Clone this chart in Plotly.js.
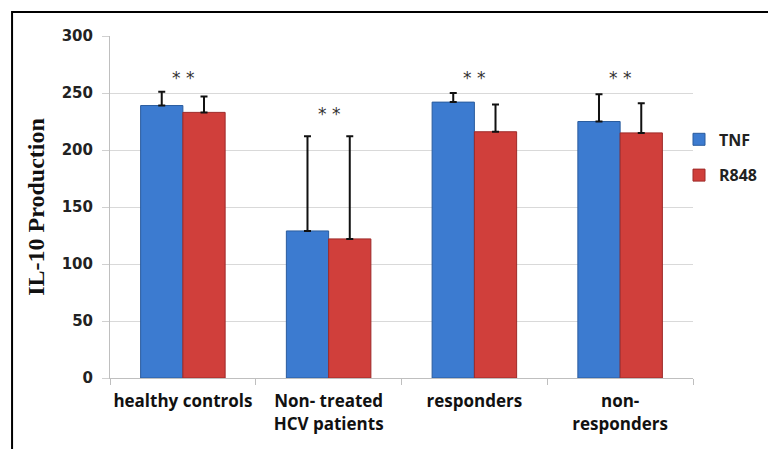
<!DOCTYPE html>
<html><head><meta charset="utf-8">
<script src="https://cdn.plot.ly/plotly-3.0.1.min.js"></script>
<style>html,body{margin:0;padding:0;background:#fff}#chart{width:768px;height:449px}</style>
</head><body><div id="chart"></div>
<script>
const categories = ["healthy controls", "Non- treated<br>HCV patients", "responders", "non-<br>responders"];
const tnfValues = [239, 129, 242, 225];
const tnfErrors = [12, 83, 8, 24];
const r848Values = [233, 122, 216, 215];
const r848Errors = [14, 90, 24, 26];
const starLabels = ["* *", "* *", "* *", "* *"];
const starHeights = [263, 232, 263, 263];
const yTicks = [0, 50, 100, 150, 200, 250, 300];

const traces = [
  {type:'bar', name:'TNF', x:categories, y:tnfValues, legendgroup:'a',
   marker:{color:'#3C7BD0', line:{color:'#2A5C9E', width:1}},
   error_y:{type:'data', symmetric:false, array:tnfErrors, arrayminus:tnfValues.map(()=>0), color:'#111', thickness:2, width:3.5}},
  {type:'bar', name:'R848', x:categories, y:r848Values, legendgroup:'b',
   marker:{color:'#D03F3B', line:{color:'#9E2A28', width:1}},
   error_y:{type:'data', symmetric:false, array:r848Errors, arrayminus:r848Values.map(()=>0), color:'#111', thickness:2, width:3.5}}
];

const annotations = categories.map((c,i)=>({x:c, y:starHeights[i], xref:'x', yref:'y', text:starLabels[i], showarrow:false,
  font:{family:'DejaVu Sans', size:17, color:'#333333'}}));

const layout = {
  width:768, height:449,
  margin:{l:110, r:75, t:36, b:71, autoexpand:false},
  paper_bgcolor:'#fff', plot_bgcolor:'#fff',
  barmode:'group', bargap:0.42, bargroupgap:0,
  showlegend:true,
  legend:{x:0.976, xanchor:'left', y:0.645, yanchor:'middle', tracegroupgap:12, bgcolor:'rgba(0,0,0,0)',
    font:{family:'Open Sans', size:16, color:'#222', weight:'bold'}, itemwidth:30},
  xaxis:{type:'category', showline:true, linecolor:'#bfbfbf', linewidth:1, tickangle:0,
    ticks:'outside', tickson:'boundaries', ticklen:6, tickcolor:'#bfbfbf', ticklabelstandoff:8,
    tickfont:{family:'Open Sans', size:17, color:'#111', weight:'bold'}, showgrid:false},
  yaxis:{range:[0,300], tickvals:yTicks, showline:true, linecolor:'#bfbfbf', linewidth:1,
    showgrid:true, gridcolor:'#d9d9d9', gridwidth:1, zeroline:false,
    ticks:'outside', ticklen:7, tickcolor:'#d0d0d0', ticklabelstandoff:6,
    tickfont:{family:'DejaVu Sans', size:15, color:'#222', weight:'bold'},
    title:{text:'IL-10 Production', standoff:10, font:{family:'Liberation Serif', size:24, color:'#111', weight:'bold'}}},
  annotations:annotations,
  shapes:[{type:'rect', xref:'paper', yref:'paper', x0:-0.168, x1:1.3, y0:-0.4, y1:1.07,
    line:{color:'#000', width:2}, fillcolor:'rgba(0,0,0,0)', layer:'above'}]
};
Plotly.newPlot('chart', traces, layout, {displayModeBar:false, staticPlot:true});
</script></body></html>
